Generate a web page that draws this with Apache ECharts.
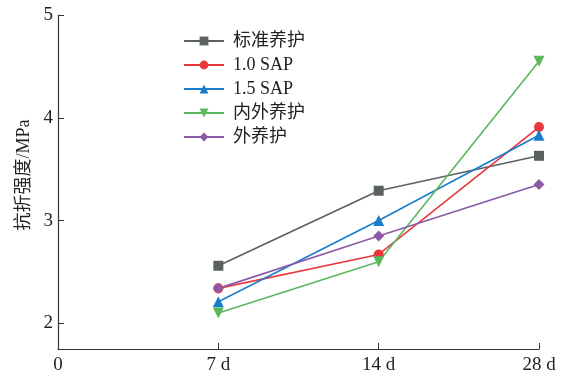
<!DOCTYPE html>
<html><head><meta charset="utf-8">
<script src="https://cdn.jsdelivr.net/npm/echarts@6/dist/echarts.min.js"></script>
<style>html,body{margin:0;padding:0;background:#fff}#c{width:576px;height:378px}</style>
</head><body><div id="c"></div>
<script>
const categories = ['0', '7 d', '14 d', '28 d'];
const yTicks = [2, 3, 4, 5];
const seriesNames = ['标准养护', '1.0 SAP', '1.5 SAP', '内外养护', '外养护'];
const standard = ['-', 2.56, 3.29, 3.63];
const sap10 = ['-', 2.34, 2.67, 3.91];
const sap15 = ['-', 2.21, 3.00, 3.83];
const innerOuter = ['-', 2.10, 2.60, 4.55];
const outer = ['-', 2.34, 2.85, 3.35];

const values = [standard, sap10, sap15, innerOuter, outer];
const colors = ['#5b6161', '#e8383d', '#1a7dcc', '#5cb85c', '#8a5aa8'];
const symbols = ['rect', 'circle', 'triangle', 'path://M0,0 L10,0 L5,10 Z', 'diamond'];
const sizes = [10, 10, 11, 11, 11];
const font = '"Liberation Serif", "Noto Sans CJK SC", serif';

const chart = echarts.init(document.getElementById('c'), null, {renderer: 'canvas'});
chart.setOption({
  animation: false,
  backgroundColor: '#fff',
  textStyle: {fontFamily: font},
  grid: {left: 58, right: 37, top: 15, bottom: 29},
  legend: {
    orient: 'vertical', left: 183, top: 32, padding: 0,
    itemWidth: 40, itemHeight: 11, itemGap: 6,
    textStyle: {fontFamily: font, fontSize: 18, color: '#222', padding: [0, 0, 0, 4]},
    data: seriesNames
  },
  xAxis: {
    type: 'category', data: categories, boundaryGap: false,
    axisLine: {lineStyle: {color: '#333', width: 1.2}},
    axisTick: {inside: true, length: 6, lineStyle: {color: '#333'}},
    axisLabel: {color: '#222', fontSize: 19, fontFamily: font, margin: 7},
    splitLine: {show: false}
  },
  yAxis: {
    type: 'value', min: 1.75, max: 5,
    name: '抗折强度/MPa', nameLocation: 'middle', nameGap: 25, nameRotate: 90,
    nameMoveOverlap: false,
    nameTextStyle: {fontSize: 18, color: '#222', fontFamily: font, padding: [0, 0, 0, 14]},
    axisLine: {show: true, lineStyle: {color: '#333', width: 1.2}},
    axisTick: {show: true, inside: true, length: 6, customValues: yTicks, lineStyle: {color: '#333'}},
    axisLabel: {color: '#222', fontSize: 19, fontFamily: font, margin: 5, customValues: yTicks},
    splitLine: {show: false}
  },
  series: seriesNames.map((n, i) => ({
    name: n, type: 'line', data: values[i],
    symbol: symbols[i], symbolSize: sizes[i],
    itemStyle: {color: colors[i]},
    lineStyle: {color: colors[i], width: 1.6},
    connectNulls: false
  }))
});
</script></body></html>
